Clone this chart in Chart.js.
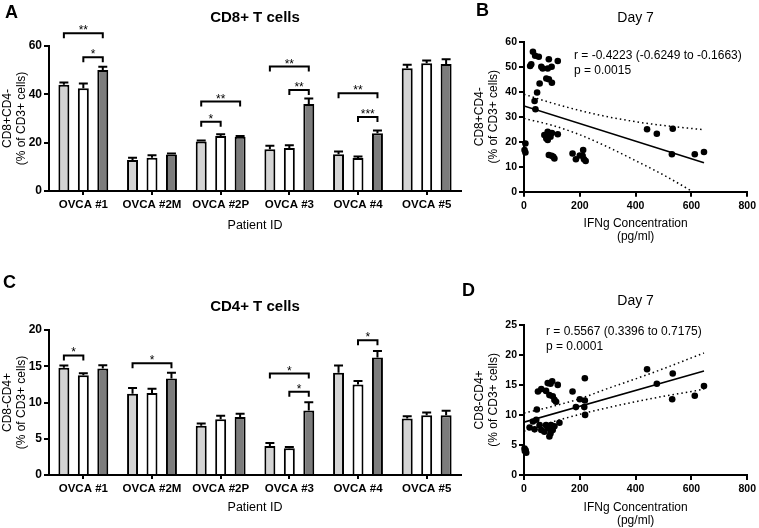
<!DOCTYPE html>
<html>
<head>
<meta charset="utf-8">
<script src="https://cdn.jsdelivr.net/npm/chart.js@4.4.1/dist/chart.umd.min.js"></script>
<style>
body { margin: 0; background: #fff; font-family: "Liberation Sans", Arial, sans-serif; }
#fig { position: relative; width: 759px; height: 528px; overflow: hidden; }
#fig canvas { position: absolute; }
.letter { position: absolute; font-weight: bold; font-size: 18px; line-height: 18px; }
.note { position: absolute; font-size: 12px; line-height: 15px; white-space: nowrap; }
</style>
</head>
<body>
<div id="fig">
	<canvas id="chart-a" width="470" height="240" style="left:0;top:0"></canvas>
	<canvas id="chart-b" width="289" height="244" style="left:470px;top:0"></canvas>
	<canvas id="chart-c" width="470" height="264" style="left:0;top:264px"></canvas>
	<canvas id="chart-d" width="289" height="264" style="left:470px;top:264px"></canvas>
	<div class="letter" style="left:5px;top:3px">A</div>
	<div class="letter" style="left:476px;top:1px">B</div>
	<div class="letter" style="left:3px;top:273px">C</div>
	<div class="letter" style="left:462px;top:281px">D</div>
	<div class="note" style="left:574px;top:48px">r = -0.4223 (-0.6249 to -0.1663)<br>p = 0.0015</div>
	<div class="note" style="left:546px;top:324px">r = 0.5567 (0.3396 to 0.7175)<br>p = 0.0001</div>
</div>
<script>
const FONT = '"Liberation Sans", Arial, sans-serif';
Chart.defaults.font.family = FONT;
Chart.defaults.color = '#000';

// bar panels (A: CD8+, C: CD4+)
let patients = ['OVCA #1', 'OVCA #2M', 'OVCA #2P', 'OVCA #3', 'OVCA #4', 'OVCA #5'];

let cd8_light = [44.0, 12.8, 20.5, 17.3, 15.2, 50.8];
let cd8_light_err = [0.9, 1.0, 0.4, 1.4, 1.1, 1.4];
let cd8_white = [42.5, 13.8, 22.8, 17.8, 13.7, 52.9];
let cd8_white_err = [2.0, 1.0, 0.7, 1.1, 0.55, 1.1];
let cd8_dark = [50.1, 15.1, 22.4, 36.0, 23.9, 52.6];
let cd8_dark_err = [1.3, 0.4, 0.4, 2.3, 1.1, 1.9];
// [category, from bar, to bar, height, stars]
let cd8_brackets = [
	[0, 0, 2, 65.3, '**'], [0, 1, 2, 55.3, '*'],
	[2, 0, 1, 28.7, '*'], [2, 0, 2, 37.0, '**'],
	[3, 0, 2, 51.5, '**'], [3, 1, 2, 41.8, '**'],
	[4, 0, 2, 40.5, '**'], [4, 1, 2, 30.6, '***']
];

let cd4_light = [14.8, 11.2, 6.8, 4.0, 14.1, 7.8];
let cd4_light_err = [0.3, 0.8, 0.3, 0.4, 1.0, 0.3];
let cd4_white = [13.75, 11.3, 7.7, 3.7, 12.5, 8.25];
let cd4_white_err = [0.3, 0.6, 0.46, 0.15, 0.46, 0.37];
let cd4_dark = [14.7, 13.3, 8.0, 8.9, 16.2, 8.25];
let cd4_dark_err = [0.45, 0.8, 0.46, 1.15, 0.9, 0.6];
let cd4_brackets = [
	[0, 0, 1, 16.5, '*'],
	[1, 0, 2, 15.4, '*'],
	[3, 0, 2, 14.0, '*'], [3, 1, 2, 11.5, '*'],
	[4, 1, 2, 18.6, '*']
];

// scatter panels (B: CD8+ vs IFNg, D: CD4+ vs IFNg)
let b_ifng = [32, 40, 53, 22, 26, 62, 67, 89, 99, 121, 85,
	56, 80, 89, 100, 47, 38, 41,
	73, 85, 92, 100, 121, 80, 85, 95,
	89, 99, 109, 105,
	5, 2, 5,
	174, 186, 212, 210, 221, 200, 215,
	441, 476, 533, 530, 612, 645];
let b_cd8 = [56, 54.4, 54, 50.3, 51, 50, 49.3, 53, 50, 52.3, 49.3,
	43.3, 45.3, 45, 43.6, 39.7, 36.3, 33,
	22.7, 24, 22.5, 23.5, 23, 21.3, 20.7, 22,
	14.7, 14.4, 13.3, 14,
	19.3, 16.7, 15.7,
	15.3, 13, 16.7, 14.4, 12.3, 14.5, 13,
	25, 23.2, 25.2, 15, 15, 15.9];
let b_fit_x = [0, 645];
let b_fit_y = [34.3, 11.6];
let b_band_x = [0, 100, 200, 300, 400, 500, 600, 645];
let b_band_hi = [39.0, 35.5, 32.5, 30.0, 28.0, 26.5, 25.3, 24.8];
let b_band_lo_x = [0, 100, 200, 300, 400, 500, 605];
let b_band_lo = [29.3, 26.6, 22.8, 17.9, 12.4, 6.7, 0];

let d_ifng = [2, 6, 8, 3,
	20, 32, 38, 44, 56, 46, 73, 85, 91, 97, 103, 109, 127, 79, 95, 62,
	50, 62, 79, 85, 95, 101, 121, 91, 103, 109, 115, 174, 218,
	186, 200, 218, 216, 219,
	441, 476, 533, 531, 612, 645];
let d_cd4 = [4.4, 4.1, 3.7, 4.0,
	7.9, 8.9, 7.6, 9.2, 8.3, 10.9, 7.2, 7.8, 6.4, 8.3, 7.5, 8.1, 8.7, 8.3, 6.9, 7.5,
	13.9, 14.3, 14, 15.3, 15.2, 15.6, 15, 13.3, 13.1, 12.5, 12.2, 13.9, 16.1,
	11.3, 12.6, 12.4, 11.3, 10,
	17.6, 15.2, 16.9, 12.6, 13.2, 14.8];
let d_fit_x = [0, 645];
let d_fit_y = [8.8, 17.3];
let d_band_x = [0, 100, 200, 300, 400, 500, 600, 645];
let d_band_hi = [10.3, 11.4, 12.7, 14.4, 16.0, 17.7, 19.5, 20.3];
let d_band_lo = [7.3, 8.8, 10.1, 11.2, 12.2, 13.1, 13.9, 14.3];

let toPoints = function(xs, ys) {
	return xs.map((x, i) => ({x: x, y: ys[i]}));
};

//error whiskers and significance brackets on top of the bars
let barExtras = function(errs, brackets) {
	return {
		id: 'barExtras',
		afterDatasetsDraw: function(chart) {
			let ctx = chart.ctx;
			let y_scale = chart.scales.y;
			ctx.save();
			ctx.strokeStyle = '#000';
			ctx.lineWidth = 2;
			chart.data.datasets.forEach(function(ds, i) {
				let meta = chart.getDatasetMeta(i);
				meta.data.forEach(function(bar, j) {
					let top = y_scale.getPixelForValue(ds.data[j] + errs[i][j]);
					let half = bar.width / 2 - 1;
					ctx.beginPath();
					ctx.moveTo(bar.x, bar.y);
					ctx.lineTo(bar.x, top);
					ctx.moveTo(bar.x - half, top);
					ctx.lineTo(bar.x + half, top);
					ctx.stroke();
				});
			});
			ctx.fillStyle = '#000';
			ctx.font = '12px ' + FONT;
			ctx.textAlign = 'center';
			ctx.textBaseline = 'alphabetic';
			for (let k = 0; k < brackets.length; k++) {
				let b = brackets[k];
				let x1 = chart.getDatasetMeta(b[1]).data[b[0]].x;
				let x2 = chart.getDatasetMeta(b[2]).data[b[0]].x;
				let y = y_scale.getPixelForValue(b[3]);
				ctx.beginPath();
				ctx.moveTo(x1, y + 5);
				ctx.lineTo(x1, y);
				ctx.lineTo(x2, y);
				ctx.lineTo(x2, y + 5);
				ctx.stroke();
				ctx.fillText(b[4], (x1 + x2) / 2, y + 1);
			}
			ctx.restore();
		}
	};
};

let axisGrid = function(len) {
	return {drawOnChartArea: false, drawTicks: true, tickLength: len, color: '#000', lineWidth: 2};
};

let makeBarChart = function(id, title, title_pad, y_title, y_max, y_step, series, errs, brackets, x_height, x_title_pad) {
	return new Chart(document.getElementById(id), {
		type: 'bar',
		data: {
			labels: patients,
			datasets: [
				{data: series[0], backgroundColor: '#d4d4d4'},
				{data: series[1], backgroundColor: '#ffffff'},
				{data: series[2], backgroundColor: '#7c7c7c'}
			].map(d => Object.assign(d, {
				borderColor: '#000', borderWidth: 2,
				categoryPercentage: 0.85, barPercentage: 0.564
			}))
		},
		options: {
			responsive: false,
			animation: false,
			layout: {padding: {right: 9}},
			plugins: {
				legend: {display: false},
				tooltip: {enabled: false},
				title: {
					display: true, text: title, fullSize: false, color: '#000',
					font: {size: 15, weight: 'bold'}, padding: title_pad
				}
			},
			scales: {
				x: {
					ticks: {color: '#000', font: {size: 11.5, weight: 'bold'}, padding: 3, maxRotation: 0},
					grid: Object.assign(axisGrid(4), {offset: false}),
					border: {color: '#000', width: 2},
					title: {display: true, text: 'Patient ID', color: '#000', font: {size: 12.5}, padding: {top: 0, bottom: x_title_pad}},
					afterFit: function(s) { s.height = x_height; }
				},
				y: {
					min: 0, max: y_max,
					ticks: {stepSize: y_step, color: '#000', font: {size: 12, weight: 'bold'}, padding: 2},
					grid: axisGrid(5),
					border: {color: '#000', width: 2},
					title: {display: true, text: y_title, color: '#000', font: {size: 12, lineHeight: 1.17}, padding: {top: 1, bottom: 0}},
					afterFit: function(s) { s.width = 49; }
				}
			}
		},
		plugins: [barExtras(errs, brackets)]
	});
};

let makeScatter = function(id, title_pad, y_title, y_max, y_step, pts, fit, hi, lo, x_height) {
	let lineSet = function(data, dash) {
		return {
			type: 'scatter', data: data, showLine: true, pointRadius: 0,
			borderColor: '#000', borderWidth: dash ? 1.5 : 1.6, borderDash: dash ? [1.5, 3] : [],
			cubicInterpolationMode: 'monotone'
		};
	};
	return new Chart(document.getElementById(id), {
		type: 'scatter',
		data: {
			datasets: [
				{data: pts, pointRadius: 3.3, pointBackgroundColor: '#000', pointBorderWidth: 0, clip: false},
				lineSet(fit, false),
				lineSet(hi, true),
				lineSet(lo, true)
			]
		},
		options: {
			responsive: false,
			animation: false,
			layout: {padding: {right: 10}},
			plugins: {
				legend: {display: false},
				tooltip: {enabled: false},
				title: {
					display: true, text: 'Day 7', fullSize: false, color: '#000',
					font: {size: 14, weight: 'normal'}, padding: title_pad
				}
			},
			scales: {
				x: {
					type: 'linear', min: 0, max: 800,
					ticks: {stepSize: 200, color: '#000', font: {size: 10.5, weight: 'bold'}, padding: 3},
					grid: axisGrid(5),
					border: {color: '#000', width: 2},
					title: {display: true, text: ['IFNg Concentration', '(pg/ml)'], color: '#000', font: {size: 12, lineHeight: 1.15}, padding: {top: 0, bottom: 0}},
					afterFit: function(s) { s.height = x_height; }
				},
				y: {
					min: 0, max: y_max,
					ticks: {stepSize: y_step, color: '#000', font: {size: 10.5, weight: 'bold'}, padding: 2},
					grid: axisGrid(5),
					border: {color: '#000', width: 2},
					title: {display: true, text: y_title, color: '#000', font: {size: 12, lineHeight: 1.17}, padding: {top: 3, bottom: 0}},
					afterFit: function(s) { s.width = 54; }
				}
			}
		}
	});
};

makeBarChart('chart-a', 'CD8+ T cells', {top: 9, bottom: 19}, ['CD8+CD4-', '(% of CD3+ cells)'], 60, 20,
	[cd8_light, cd8_white, cd8_dark], [cd8_light_err, cd8_white_err, cd8_dark_err], cd8_brackets, 49, 6.5);

makeBarChart('chart-c', 'CD4+ T cells', {top: 34, bottom: 14}, ['CD8-CD4+', '(% of CD3+ cells)'], 20, 5,
	[cd4_light, cd4_white, cd4_dark], [cd4_light_err, cd4_white_err, cd4_dark_err], cd4_brackets, 53, 12.5);

makeScatter('chart-b', {top: 10, bottom: 15}, ['CD8+CD4-', '(% of CD3+ cells)'], 60, 10,
	toPoints(b_ifng, b_cd8), toPoints(b_fit_x, b_fit_y),
	toPoints(b_band_x, b_band_hi), toPoints(b_band_lo_x, b_band_lo), 52.3);

makeScatter('chart-d', {top: 29, bottom: 15}, ['CD8-CD4+', '(% of CD3+ cells)'], 25, 5,
	toPoints(d_ifng, d_cd4), toPoints(d_fit_x, d_fit_y),
	toPoints(d_band_x, d_band_hi), toPoints(d_band_x, d_band_lo), 53);
</script>
</body>
</html>
